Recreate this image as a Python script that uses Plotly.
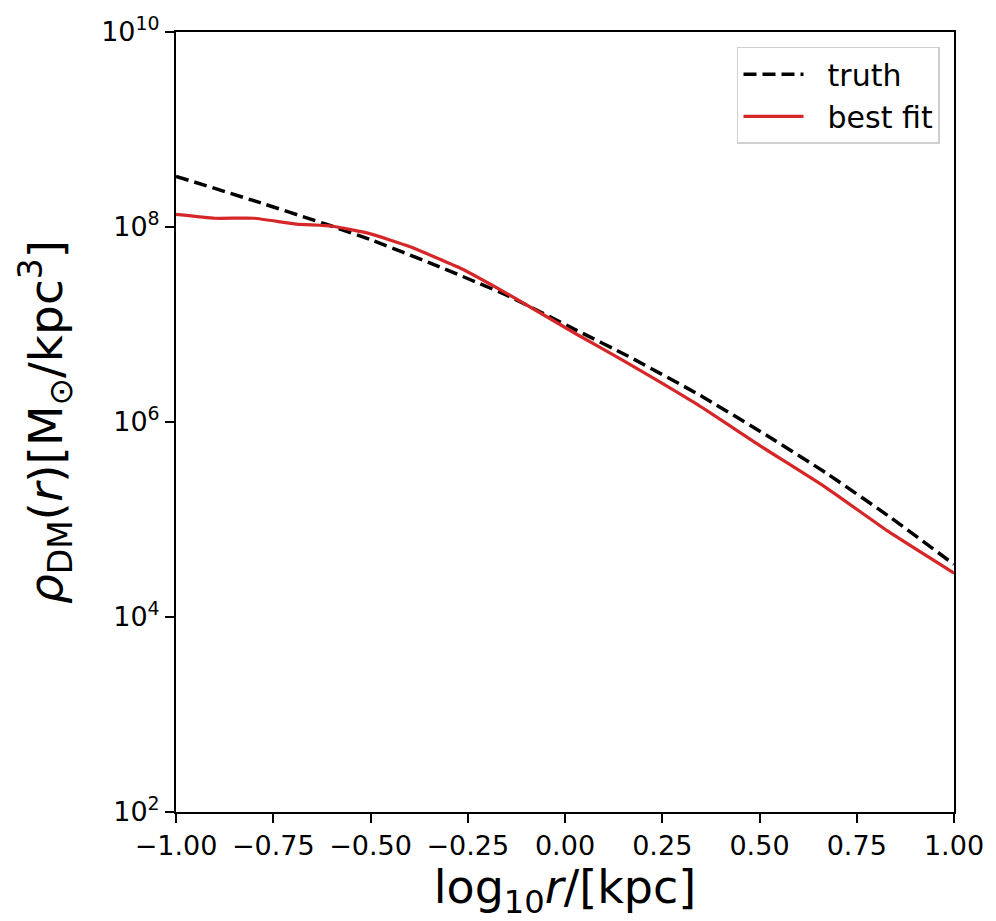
import plotly.graph_objects as go

# log10 radius [kpc] and log10 density [M_sun / kpc^3]
truth_logr = [-1.00, -0.80, -0.60, -0.50, -0.34, -0.15, 0.03, 0.16, 0.34, 0.52, 0.67, 0.83, 1.00]
truth_logrho = [8.52, 8.27, 8.01, 7.87, 7.62, 7.30, 6.94, 6.68, 6.29, 5.86, 5.48, 5.04, 4.54]

fit_logr = [-1.00, -0.90, -0.80, -0.69, -0.60, -0.50, -0.40, -0.27, -0.15, 0.03, 0.15, 0.34,
            0.50, 0.67, 0.83, 1.00]
fit_logrho = [8.13, 8.09, 8.09, 8.03, 8.01, 7.93, 7.80, 7.58, 7.32, 6.90, 6.63, 6.18,
              5.76, 5.33, 4.88, 4.45]

series_names = ["truth", "best fit"]

x_ticks = [-1.00, -0.75, -0.50, -0.25, 0.00, 0.25, 0.50, 0.75, 1.00]
x_ticktext = ["\u22121.00", "\u22120.75", "\u22120.50", "\u22120.25", "0.00", "0.25", "0.50", "0.75", "1.00"]
y_exponents = [2, 4, 6, 8, 10]

FONT = "DejaVu Sans"
PAD = "\u00a0\u00a0"  # spacing between legend line sample and its label

fig = go.Figure()
fig.add_trace(go.Scatter(
    x=truth_logr, y=[10 ** v for v in truth_logrho], mode="lines", name=PAD + series_names[0],
    line=dict(color="black", width=3.5, dash="13px,6px", shape="spline", smoothing=0.5),
))
fig.add_trace(go.Scatter(
    x=fit_logr, y=[10 ** v for v in fit_logrho], mode="lines", name=PAD + series_names[1],
    line=dict(color="#d62728", width=3.2, shape="spline", smoothing=0.4),
))

axis_common = dict(
    showline=True, linecolor="black", linewidth=2, mirror=True,
    ticks="outside", ticklen=9, tickwidth=2, tickcolor="black",
    showgrid=False, zeroline=False,
    tickfont=dict(family=FONT, size=27, color="black"),
)

fig.update_xaxes(
    range=[-1, 1], tickvals=x_ticks, ticktext=x_ticktext,
    title=dict(text="log<sub>10</sub><i>r</i>/[kpc]", font=dict(family=FONT, size=46, color="black"),
               standoff=11),
    **axis_common,
)
fig.update_yaxes(
    type="log", range=[2, 10],
    tickvals=[10 ** e for e in y_exponents],
    ticktext=[f"10<sup>{e}</sup>" for e in y_exponents],
    title=dict(text="<i>\u03c1</i><sub>DM</sub>(<i>r</i>)[M<sub>\u2299</sub>/kpc<sup>3</sup>]",
               font=dict(family=FONT, size=47, color="black"), standoff=24),
    **axis_common,
)

fig.update_layout(
    width=996, height=921,
    margin=dict(l=176, r=38, t=30, b=109),
    paper_bgcolor="white", plot_bgcolor="white",
    font=dict(family=FONT, color="black"),
    showlegend=True,
    legend=dict(
        x=0.982, y=0.981, xanchor="right", yanchor="top",
        bgcolor="white", bordercolor="#d0d0d0", borderwidth=1.5,
        font=dict(family=FONT, size=30, color="black"),
        itemwidth=60, tracegroupgap=4,
    ),
)

fig.write_html("out.html")
